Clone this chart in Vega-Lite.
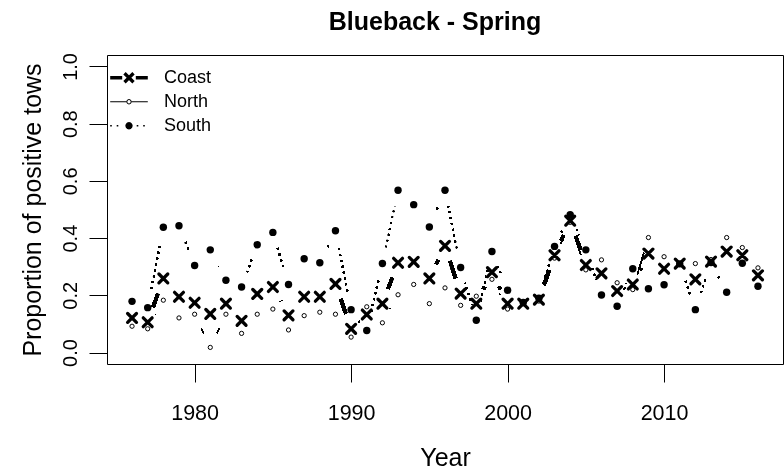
{
  "$schema": "https://vega.github.io/schema/vega-lite/v6.json",
  "width": 676,
  "height": 309,
  "autosize": {"type": "none"},
  "padding": {"left": 107, "top": 55, "right": 1, "bottom": 106},
  "background": "white",
  "title": {"text": "Blueback - Spring", "font": "Liberation Sans", "fontSize": 25, "fontWeight": "bold", "color": "black", "offset": 18, "dx": -10, "anchor": "middle"},
  "config": {
    "font": "Liberation Sans",
    "view": {"stroke": "black", "strokeWidth": 1},
    "axis": {"grid": false, "domain": false, "tickColor": "black", "tickSize": 18, "tickWidth": 1, "labelColor": "black", "labelFont": "Liberation Sans", "titleFont": "Liberation Sans", "titleFontSize": 25, "titleFontWeight": "normal", "titleColor": "black", "zindex": 1}
  },
  "data": {"values": [
    {"year":1976,"series":"Coast","value":0.121},{"year":1976,"series":"North","value":0.092},{"year":1976,"series":"South","value":0.179},
    {"year":1977,"series":"Coast","value":0.106},{"year":1977,"series":"North","value":0.083},{"year":1977,"series":"South","value":0.157},
    {"year":1978,"series":"Coast","value":0.259},{"year":1978,"series":"North","value":0.183},{"year":1978,"series":"South","value":0.438},
    {"year":1979,"series":"Coast","value":0.195},{"year":1979,"series":"North","value":0.121},{"year":1979,"series":"South","value":0.443},
    {"year":1980,"series":"Coast","value":0.174},{"year":1980,"series":"North","value":0.134},{"year":1980,"series":"South","value":0.304},
    {"year":1981,"series":"Coast","value":0.135},{"year":1981,"series":"North","value":0.018},{"year":1981,"series":"South","value":0.359},
    {"year":1982,"series":"Coast","value":0.171},{"year":1982,"series":"North","value":0.134},{"year":1982,"series":"South","value":0.253},
    {"year":1983,"series":"Coast","value":0.111},{"year":1983,"series":"North","value":0.067},{"year":1983,"series":"South","value":0.229},
    {"year":1984,"series":"Coast","value":0.205},{"year":1984,"series":"North","value":0.134},{"year":1984,"series":"South","value":0.377},
    {"year":1985,"series":"Coast","value":0.229},{"year":1985,"series":"North","value":0.152},{"year":1985,"series":"South","value":0.420},
    {"year":1986,"series":"Coast","value":0.130},{"year":1986,"series":"North","value":0.079},{"year":1986,"series":"South","value":0.238},
    {"year":1987,"series":"Coast","value":0.195},{"year":1987,"series":"North","value":0.129},{"year":1987,"series":"South","value":0.328},
    {"year":1988,"series":"Coast","value":0.195},{"year":1988,"series":"North","value":0.141},{"year":1988,"series":"South","value":0.314},
    {"year":1989,"series":"Coast","value":0.240},{"year":1989,"series":"North","value":0.134},{"year":1989,"series":"South","value":0.426},
    {"year":1990,"series":"Coast","value":0.083},{"year":1990,"series":"North","value":0.054},{"year":1990,"series":"South","value":0.150},
    {"year":1991,"series":"Coast","value":0.133},{"year":1991,"series":"North","value":0.160},{"year":1991,"series":"South","value":0.077},
    {"year":1992,"series":"Coast","value":0.171},{"year":1992,"series":"North","value":0.104},{"year":1992,"series":"South","value":0.311},
    {"year":1993,"series":"Coast","value":0.314},{"year":1993,"series":"North","value":0.202},{"year":1993,"series":"South","value":0.567},
    {"year":1994,"series":"Coast","value":0.317},{"year":1994,"series":"North","value":0.238},{"year":1994,"series":"South","value":0.517},
    {"year":1995,"series":"Coast","value":0.259},{"year":1995,"series":"North","value":0.171},{"year":1995,"series":"South","value":0.439},
    {"year":1996,"series":"Coast","value":0.373},{"year":1996,"series":"North","value":0.226},{"year":1996,"series":"South","value":0.567},
    {"year":1997,"series":"Coast","value":0.206},{"year":1997,"series":"North","value":0.165},{"year":1997,"series":"South","value":0.297},
    {"year":1998,"series":"Coast","value":0.171},{"year":1998,"series":"North","value":0.197},{"year":1998,"series":"South","value":0.113},
    {"year":1999,"series":"Coast","value":0.281},{"year":1999,"series":"North","value":0.256},{"year":1999,"series":"South","value":0.353},
    {"year":2000,"series":"Coast","value":0.171},{"year":2000,"series":"North","value":0.152},{"year":2000,"series":"South","value":0.218},
    {"year":2001,"series":"Coast","value":0.171},{"year":2001,"series":"North","value":0.172},{"year":2001,"series":"South","value":0.175},
    {"year":2002,"series":"Coast","value":0.185},{"year":2002,"series":"North","value":0.180},{"year":2002,"series":"South","value":0.190},
    {"year":2003,"series":"Coast","value":0.340},{"year":2003,"series":"North","value":0.330},{"year":2003,"series":"South","value":0.371},
    {"year":2004,"series":"Coast","value":0.461},{"year":2004,"series":"North","value":0.455},{"year":2004,"series":"South","value":0.482},
    {"year":2005,"series":"Coast","value":0.306},{"year":2005,"series":"North","value":0.289},{"year":2005,"series":"South","value":0.359},
    {"year":2006,"series":"Coast","value":0.277},{"year":2006,"series":"North","value":0.324},{"year":2006,"series":"South","value":0.201},
    {"year":2007,"series":"Coast","value":0.215},{"year":2007,"series":"North","value":0.244},{"year":2007,"series":"South","value":0.162},
    {"year":2008,"series":"Coast","value":0.238},{"year":2008,"series":"North","value":0.220},{"year":2008,"series":"South","value":0.293},
    {"year":2009,"series":"Coast","value":0.346},{"year":2009,"series":"North","value":0.402},{"year":2009,"series":"South","value":0.223},
    {"year":2010,"series":"Coast","value":0.293},{"year":2010,"series":"North","value":0.335},{"year":2010,"series":"South","value":0.237},
    {"year":2011,"series":"Coast","value":0.311},{"year":2011,"series":"North","value":0.310},{"year":2011,"series":"South","value":0.310},
    {"year":2012,"series":"Coast","value":0.256},{"year":2012,"series":"North","value":0.311},{"year":2012,"series":"South","value":0.150},
    {"year":2013,"series":"Coast","value":0.318},{"year":2013,"series":"North","value":0.325},{"year":2013,"series":"South","value":0.315},
    {"year":2014,"series":"Coast","value":0.353},{"year":2014,"series":"North","value":0.402},{"year":2014,"series":"South","value":0.211},
    {"year":2015,"series":"Coast","value":0.340},{"year":2015,"series":"North","value":0.367},{"year":2015,"series":"South","value":0.312},
    {"year":2016,"series":"Coast","value":0.270},{"year":2016,"series":"North","value":0.296},{"year":2016,"series":"South","value":0.232}
  ]},
  "encoding": {
    "x": {"field": "year", "type": "quantitative", "scale": {"domain": [1974.4, 2017.6], "nice": false, "zero": false},
      "axis": {"title": "Year", "values": [1980, 1990, 2000, 2010], "format": "d", "labelFontSize": 21.5, "labelBaseline": "alphabetic", "labelPadding": 37, "labelFlush": false, "labelOverlap": false,
        "titleX": 338, "titleY": 101, "titleAlign": "center", "titleBaseline": "alphabetic", "titleAngle": 0}},
    "y": {"field": "value", "type": "quantitative", "scale": {"domain": [-0.04, 1.04], "nice": false, "zero": false},
      "axis": {"title": "Proportion of positive tows", "values": [0, 0.2, 0.4, 0.6, 0.8, 1], "format": ".1f", "labelFontSize": 20, "labelAngle": -90, "labelAlign": "center", "labelBaseline": "alphabetic", "labelPadding": 13, "labelFlush": false, "labelOverlap": false,
        "titleX": -67, "titleY": 154.5, "titleAngle": 270, "titleAlign": "center", "titleBaseline": "alphabetic"}}
  },
  "layer": [
    {"transform": [{"filter": "datum.series == 'Coast'"}], "mark": {"type": "line", "color": "#ffff00", "strokeWidth": 3.3, "strokeJoin": "round", "blend": "multiply"}},
    {"transform": [{"filter": "datum.series == 'North'"}], "mark": {"type": "line", "color": "#ff00ff", "strokeWidth": 1, "blend": "multiply"}},
    {"transform": [{"filter": "datum.series == 'South'"}], "mark": {"type": "line", "color": "#00ffff", "strokeWidth": 1.6, "strokeDash": [1.6, 4.4], "blend": "multiply"}},
    {"transform": [{"filter": "datum.series == 'Coast'"}], "mark": {"type": "point", "shape": "circle", "size": 1056, "filled": true, "color": "#0000ff", "strokeWidth": 0, "opacity": 1, "blend": "lighten"}},
    {"transform": [{"filter": "datum.series == 'North'"}], "mark": {"type": "point", "shape": "circle", "size": 1056, "filled": true, "color": "#00ff00", "strokeWidth": 0, "opacity": 1, "blend": "lighten"}},
    {"transform": [{"filter": "datum.series == 'South'"}], "mark": {"type": "point", "shape": "circle", "size": 1056, "filled": true, "color": "#ff0000", "strokeWidth": 0, "opacity": 1, "blend": "lighten"}},
    {"mark": {"type": "point", "shape": "M-0.62,-2.625L0.62,-2.625L0.62,2.625L-0.62,2.625Z", "size": 1024, "filled": true, "color": "#808080", "strokeWidth": 0, "opacity": 1, "blend": "color"}},
    {"mark": {"type": "point", "shape": "M-0.62,-2.625L0.62,-2.625L0.62,2.625L-0.62,2.625Z", "size": 1024, "filled": true, "color": "#1a1a1a", "strokeWidth": 0, "opacity": 1, "blend": "color-burn"}},
    {"transform": [{"filter": "datum.series == 'Coast'"}], "mark": {"type": "point", "shape": "M-1,-1L1,1M1,-1L-1,1", "size": 78, "filled": false, "color": "black", "strokeWidth": 3.3, "strokeCap": "round", "opacity": 1}},
    {"transform": [{"filter": "datum.series == 'North'"}], "mark": {"type": "point", "shape": "circle", "size": 18, "filled": false, "color": "black", "strokeWidth": 1, "opacity": 1}},
    {"transform": [{"filter": "datum.series == 'South'"}], "mark": {"type": "point", "shape": "circle", "size": 55, "filled": true, "color": "black", "strokeWidth": 0, "opacity": 1}},
    {"transform": [{"filter": "false"}], "mark": {"type": "point", "filled": true, "color": "black", "size": 4, "strokeWidth": 0, "opacity": 1},
      "encoding": {"shape": {"field": "series", "type": "nominal",
        "scale": {"domain": ["Coast", "North", "South"], "range": [
          "M-18.8,-1.65L-6.8,-1.65L-6.8,1.65L-18.8,1.65Z M6.8,-1.65L18.8,-1.65L18.8,1.65L6.8,1.65Z M-3.33,-5.67L5.67,3.33L3.33,5.67L-5.67,-3.33Z M3.33,-5.67L5.67,-3.33L-3.33,5.67L-5.67,3.33Z",
          "M-18.8,-0.5L-2.7,-0.5L-2.7,0.5L-18.8,0.5Z M2.7,-0.5L18.8,-0.5L18.8,0.5L2.7,0.5Z M2.7,0L2.34,1.35L1.35,2.34L0,2.7L-1.35,2.34L-2.34,1.35L-2.7,0L-2.34,-1.35L-1.35,-2.34L0,-2.7L1.35,-2.34L2.34,-1.35Z M1.7,0L1.47,-0.85L0.85,-1.47L0,-1.7L-0.85,-1.47L-1.47,-0.85L-1.7,0L-1.47,0.85L-0.85,1.47L0,1.7L0.85,1.47L1.47,0.85Z",
          "M-18.8,-0.8L-17.2,-0.8L-17.2,0.8L-18.8,0.8Z M-12.3,-0.8L-10.7,-0.8L-10.7,0.8L-12.3,0.8Z M7.7,-0.8L9.3,-0.8L9.3,0.8L7.7,0.8Z M14.2,-0.8L15.8,-0.8L15.8,0.8L14.2,0.8Z M3.7,0L3.2,1.85L1.85,3.2L0,3.7L-1.85,3.2L-3.2,1.85L-3.7,0L-3.2,-1.85L-1.85,-3.2L0,-3.7L1.85,-3.2L3.2,-1.85Z"
        ]},
        "legend": {"title": null, "orient": "none", "legendX": 0, "legendY": 11, "padding": 0, "rowPadding": 0, "clipHeight": 23.5, "symbolSize": 4, "symbolOffset": 13, "labelOffset": 26, "labelFont": "Liberation Sans", "labelFontSize": 18, "labelColor": "black", "symbolStrokeWidth": 0, "symbolFillColor": "black", "zindex": 1}}}}
  ]
}
